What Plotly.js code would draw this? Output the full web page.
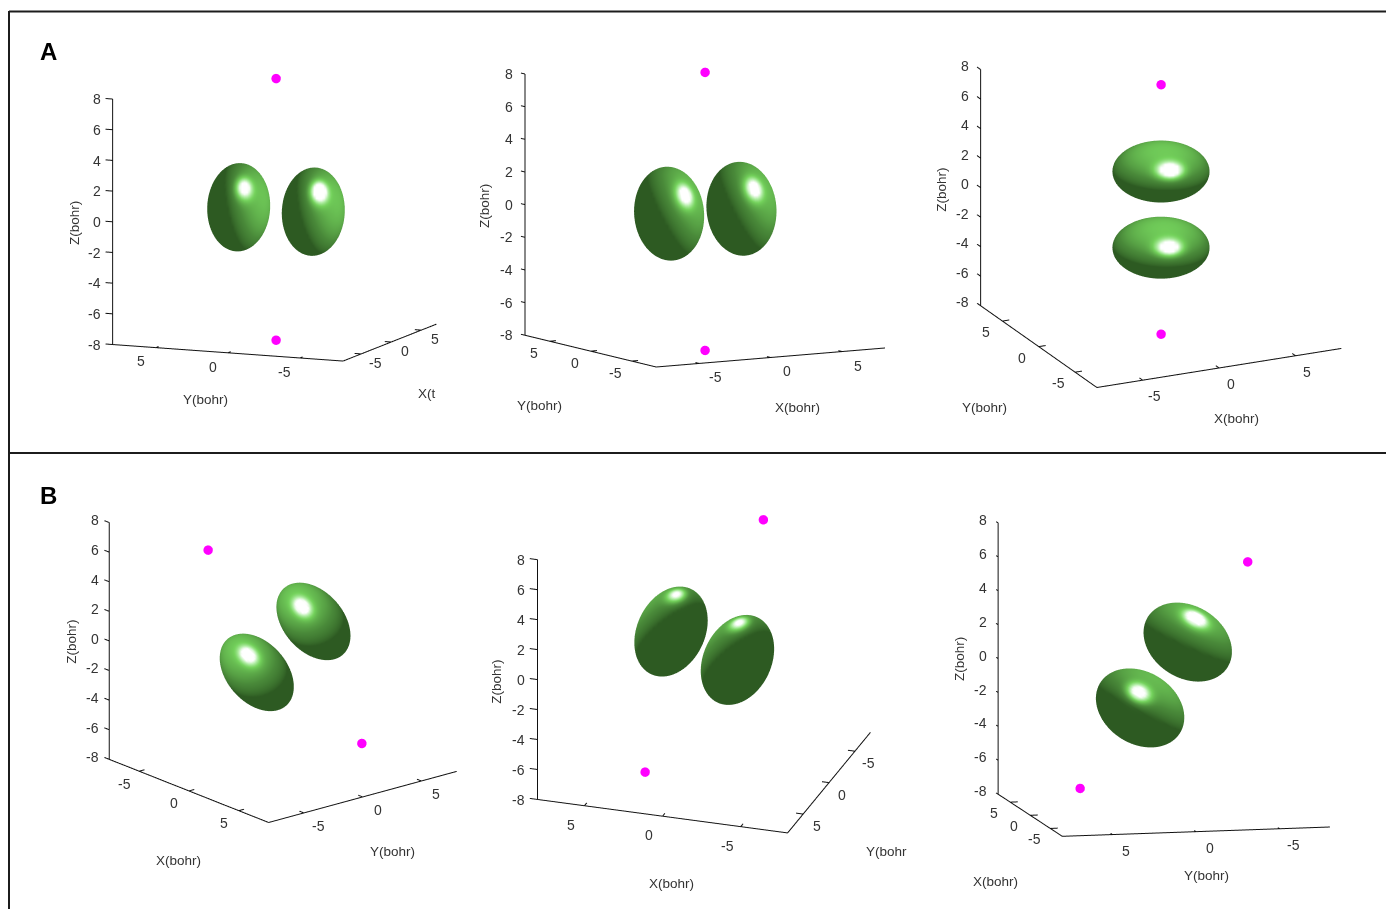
<!DOCTYPE html>
<html><head><meta charset="utf-8">
<script src="https://cdn.plot.ly/plotly-3.0.1.min.js"></script>
<style>html,body{margin:0;padding:0;background:#fff}#g{width:1386px;height:909px}</style>
</head><body><div id="g"></div>
<script>
// ---------- chart values (bohr) ----------
const zTicks=[-8,-6,-4,-2,0,2,4,6,8];
const xyTicks=[-5,0,5];
const panelGroups=['A','B'];
// nuclei (magenta), two per panel: A1,A2,A3,B1,B2,B3
const dotX=[[0,0],[0,0],[0,0],[-7.53,7.91],[-3.13,3.11],[0,0]];
const dotY=[[0,0],[0,0],[0,0],[0,0],[-2,2],[-5,5.02]];
const dotZ=[[8.64,-8.41],[8.5,-8.53],[8.43,-8.47],[4.55,-4.4],[8.03,-8.0],[6.51,-6.51]];
// orbital lobes, two per panel: centre
const lobeX=[[0,0],[-2.51,2.55],[0,0],[0,0],[2.11,-2.14],[-2,2]];
const lobeY=[[2.59,-2.59],[0,0],[0,0],[2.59,-2.23],[0,0],[-0.94,0.95]];
const lobeZ=[[0.07,0.13],[0.02,-0.05],[2.54,-2.62],[1.17,-1.235],[0.67,-0.63],[2.22,-2.22]];
// lobe semi-axes in bohr and tilt in degrees
const lobeShort=[2.05,2.14,3.29,2.03,2.27,2.12];
const lobeLong=[2.88,2.88,2.10,3.0,3.14,2.78];
const lobeTilt=[-3,5,0,41.5,-25,57.5];
// ---------- view fit: pixel span of the 16-bohr axes, per panel ----------
const views=[
 {T:[113,99.5],  E:[439,323],     vx:[96,38],      vy:[-230,16.5],  vz:245,   Zc:[-8,8], O:[-8,-8], stop:0.97},
 {T:[525.7,74.3],E:[885,347.7],   vx:[228.3,19],   vy:[-131,31.7],  vz:260.7, Zc:[-8,8], O:[-8,-8], stop:1},
 {T:[980.7,70],  E:[1340.7,348.3],vx:[244,39],     vy:[-116,81.6],  vz:235.7, Zc:[-8,8], O:[-8,-8], stop:1},
 {T:[110,522.7], E:[456.7,771],   vx:[159,-63],    vy:[187.7,51],   vz:236.3, Zc:[-8,-8],O:[8,-8],  stop:1},
 {T:[537.7,560], E:[870,732.3],   vx:[-249.6,33.4],vy:[-82.7,-100.4],vz:239.3,Zc:[8,8],  O:[-8,8],  stop:1},
 {T:[998.3,523.3],E:[1329.3,826.7],vx:[-64,42],    vy:[-267,-9.3],  vz:270.7, Zc:[8,8],  O:[-8,8],  stop:1}
];
// label offsets in pixels: z labels, first floor axis, second floor axis
const zShift=[[-10,0],[-10.7,0],[-9,3.5],[-9,2],[-10,0],[-9,3]];
const a1Shift=[[-15,-13.5],[-16,-12],[-16,-11],[-15.5,-12.5],[-13,-19],[-16,-10.5]];
const a2Shift=[[14,-9],[16,-14],[12,-16],[14.5,-13.3],[13.5,-12],[14,-16]];
const titles=[
 [['Z(bohr)',74,223,-90],['Y(bohr)',205,399,0],['X(t',427,393,0]],
 [['Z(bohr)',484,206,-90],['Y(bohr)',539,405.7,0],['X(bohr)',797,407.7,0]],
 [['Z(bohr)',941.7,190,-90],['Y(bohr)',984,407.7,0],['X(bohr)',1236.7,418,0]],
 [['Z(bohr)',72,641.7,-90],['X(bohr)',178,860.7,0],['Y(bohr)',392,851,0]],
 [['Z(bohr)',497,681.7,-90],['X(bohr)',671,883,0],['Y(bohr',886,851,0]],
 [['Z(bohr)',959,659,-90],['X(bohr)',995,881,0],['Y(bohr)',1206.7,875.7,0]]
];
// lighting for each lobe: light dir (screen u,v,w) and highlight position on the lobe
const lights=[
 [[.89,.30,.33],[.85,.35,.40]],
 [[.80,.55,.20],[.80,.55,.20]],
 [[.10,.80,.60],[.10,.78,.62]],
 [[-.45,.70,.55],[-.45,.70,.55]],
 [[-.42,.83,-.37],[-.42,.83,-.40]],
 [[.37,.92,.12],[.45,.89,.08]]
];
const spots=[
 [[.14,.44],[.16,.46]],
 [[.50,.36],[.41,.40]],
 [[.19,.03],[.17,.0]],
 [[.04,.42],[.17,.42]],
 [[-.31,.76],[-.41,.73]],
 [[.68,.13],[.34,.20]]
];
const spotGain=[[.8,1.05],[.8,.8],[1,.9],[.8,.8],[.75,.75],[1,.9]];
const W=1386,H=909,D=400,R=12,C=199.6;
const traces=[],layout={width:W,height:H,margin:{l:0,r:0,t:0,b:0},paper_bgcolor:'#fff',showlegend:false,
 shapes:[
  {type:'line',xref:'paper',yref:'paper',x0:9/W,x1:1,y0:1-11.5/H,y1:1-11.5/H,line:{color:'#1c1c1c',width:2}},
  {type:'line',xref:'paper',yref:'paper',x0:9/W,x1:1,y0:1-453/H,y1:1-453/H,line:{color:'#1c1c1c',width:2}},
  {type:'line',xref:'paper',yref:'paper',x0:9/W,x1:9/W,y0:0,y1:1-11/H,line:{color:'#1c1c1c',width:2}}
 ],
 annotations:[
  {xref:'paper',yref:'paper',x:48.5/W,y:1-51.5/H,xanchor:'center',yanchor:'middle',text:panelGroups[0],showarrow:false,font:{family:'Liberation Sans',size:24,color:'#000',weight:700}},
  {xref:'paper',yref:'paper',x:48/W,y:1-495/H,xanchor:'center',yanchor:'middle',text:panelGroups[1],showarrow:false,font:{family:'Liberation Sans',size:24,color:'#000',weight:700}}
 ]};
const ramp=[[0,'#2d5a22'],[.3,'#4a8a3a'],[.6,'#74d25c'],[.8,'#b4eea8'],[1,'#ffffff']];
const lab=(x,y,z,t,sx,sy,anchor)=>({x,y,z,text:String(t),showarrow:false,xshift:sx,yshift:sy,xanchor:anchor,yanchor:'middle',font:{family:'Liberation Sans',size:14,color:'#333'}});
function fit(v){
 const xr=v.vx[1]/v.vx[0],yr=v.vy[1]/v.vy[0];
 const se=Math.sqrt(-xr*yr),ce=Math.sqrt(1-se*se);
 const tt=Math.sqrt(-yr/xr);
 const th=Math.atan2(-Math.sign(v.vx[0])*tt,Math.sign(v.vy[0]));
 const st=Math.sin(th),ct=Math.cos(th);
 return {A:[Math.abs(v.vx[0]/st),Math.abs(v.vy[0]/ct),v.vz/ce],
  r:[-st,ct,0],u:[-se*ct,-se*st,ce],d:[ce*ct,ce*st,se],ppb:v.vz/16};
}
views.forEach((v,i)=>{
 const f=fit(v),name=i?'scene'+(i+1):'scene',sid=i?'scene'+(i+1):'scene';
 const cx=(v.T[0]+v.E[0])/2,cy=(v.T[1]+v.E[1])/2;
 const rr=2;
 const hide={visible:false,range:[-R,R]};
 const ann=[];
 layout[name]={domain:{x:[(cx-D/2)/W,(cx+D/2)/W],y:[1-(cy+D/2)/H,1-(cy-D/2)/H]},
  aspectmode:'manual',aspectratio:{x:f.A[0]*(2*R/16)/C,y:f.A[1]*(2*R/16)/C,z:f.A[2]*(2*R/16)/C},
  camera:{projection:{type:'orthographic'},up:{x:0,y:0,z:1},center:{x:0,y:0,z:0},eye:{x:f.d[0]*rr,y:f.d[1]*rr,z:f.d[2]*rr}},
  xaxis:hide,yaxis:hide,zaxis:hide,bgcolor:'rgba(0,0,0,0)',annotations:ann};
 // axes
 const Zc=v.Zc,O=v.O,Ec=[-Zc[0],-Zc[1]];
 Ec[0]=O[0]===Zc[0]?-O[0]:O[0]; Ec[1]=O[1]===Zc[1]?-O[1]:O[1];
 const toE=[Math.sign(Ec[0]-O[0]),Math.sign(Ec[1]-O[1])],toZ=[Math.sign(Zc[0]-O[0]),Math.sign(Zc[1]-O[1])];
 const lx=[],ly=[],lz=[];
 const seg=(a,b)=>{lx.push(a[0],b[0],null);ly.push(a[1],b[1],null);lz.push(a[2],b[2],null)};
 const stopP=[O[0]+(Ec[0]-O[0])*v.stop,O[1]+(Ec[1]-O[1])*v.stop];
 seg([Zc[0],Zc[1],-8],[Zc[0],Zc[1],8]);
 seg([Zc[0],Zc[1],-8],[O[0],O[1],-8]);
 seg([O[0],O[1],-8],[stopP[0],stopP[1],-8]);
 const T=0.45;
 zTicks.forEach(t=>{seg([Zc[0],Zc[1],t],[Zc[0]+toZ[0]*T*1.1,Zc[1]+toZ[1]*T*1.1,t]);
  ann.push(lab(Zc[0],Zc[1],t,t,zShift[i][0],zShift[i][1],'right'));});
 const along1=toZ[0]!==0?0:1, along2=toE[0]!==0?0:1;
 xyTicks.forEach(t=>{
  const p1=[O[0],O[1],-8];p1[along1]=t;
  seg(p1,[p1[0]+toE[0]*T,p1[1]+toE[1]*T,-8]);
  ann.push(lab(p1[0],p1[1],-8,t,a1Shift[i][0],a1Shift[i][1],'center'));
  const p2=[O[0],O[1],-8];p2[along2]=t;
  seg(p2,[p2[0]+toZ[0]*T,p2[1]+toZ[1]*T,-8]);
  ann.push(lab(p2[0],p2[1],-8,t,a2Shift[i][0],a2Shift[i][1],'center'));
 });
 traces.push({type:'scatter3d',scene:sid,mode:'lines',x:lx,y:ly,z:lz,connectgaps:false,line:{color:'#111',width:2},hoverinfo:'skip',showlegend:false});
 // dots
 traces.push({type:'scatter3d',scene:sid,mode:'markers',x:dotX[i],y:dotY[i],z:dotZ[i],marker:{color:'#ff00ff',size:5.5,opacity:1,line:{width:0}},hoverinfo:'skip',showlegend:false});
 // lobes
 const toData=(s,t,w)=>{const q=[0,1,2].map(k=>(s*f.r[k]+t*f.u[k]+w*f.d[k]));return [16*q[0]/f.A[0],16*q[1]/f.A[1],16*q[2]/f.A[2]];};
 const a=lobeShort[i]*f.ppb,b=lobeLong[i]*f.ppb,al=lobeTilt[i]*Math.PI/180;
 const es=[Math.cos(al),Math.sin(al)],el=[-Math.sin(al),Math.cos(al)];
 [0,1].forEach(n=>{
  const L=lights[i][n],ln=Math.hypot(L[0],L[1],L[2]);
  const hu=spots[i][n][0],hv=spots[i][n][1],hw=Math.sqrt(Math.max(0,1-hu*hu-hv*hv));
  const X=[],Y=[],Z=[],S=[];const N=72;
  for(let p=0;p<=N;p++){const rx=[],ry=[],rz=[],rs=[];
   const ph=Math.PI*p/N;
   for(let q=0;q<=N;q++){const tq=2*Math.PI*q/N;
    const p1=Math.sin(ph)*Math.cos(tq),p2=Math.cos(ph),p3=Math.sin(ph)*Math.sin(tq);
    const s=a*p1*es[0]+b*p2*el[0],t=a*p1*es[1]+b*p2*el[1],w=a*p3;
    const dt=toData(s,t,w);
    rx.push(lobeX[i][n]+dt[0]);ry.push(lobeY[i][n]+dt[1]);rz.push(lobeZ[i][n]+dt[2]);
    const nu=p1*es[0]+p2*el[0],nv=p1*es[1]+p2*el[1];
    const dif=Math.max(0,(nu*L[0]+nv*L[1]+p3*L[2])/ln);
    const sp=Math.max(0,p1*hu+p2*hv+p3*hw);
    const val=.62*Math.pow(dif,.7)*(.75+.25*Math.max(0,p3))+spotGain[i][n]*Math.pow(sp,30);
    rs.push(Math.min(1,val));
   }
   X.push(rx);Y.push(ry);Z.push(rz);S.push(rs);
  }
  traces.push({type:'surface',scene:sid,x:X,y:Y,z:Z,surfacecolor:S,cmin:0,cmax:1,colorscale:ramp,showscale:false,hoverinfo:'skip',
   lighting:{ambient:1,diffuse:0,specular:0,fresnel:0,roughness:1},contours:{x:{show:false},y:{show:false},z:{show:false}}});
 });
 // titles
 titles[i].forEach(t=>layout.annotations.push({xref:'paper',yref:'paper',x:t[1]/W,y:1-t[2]/H,xanchor:'center',yanchor:'middle',text:t[0],textangle:t[3],showarrow:false,font:{family:'Liberation Sans',size:13.5,color:'#333'}}));
});
Plotly.newPlot('g',traces,layout,{displayModeBar:false});
</script></body></html>
